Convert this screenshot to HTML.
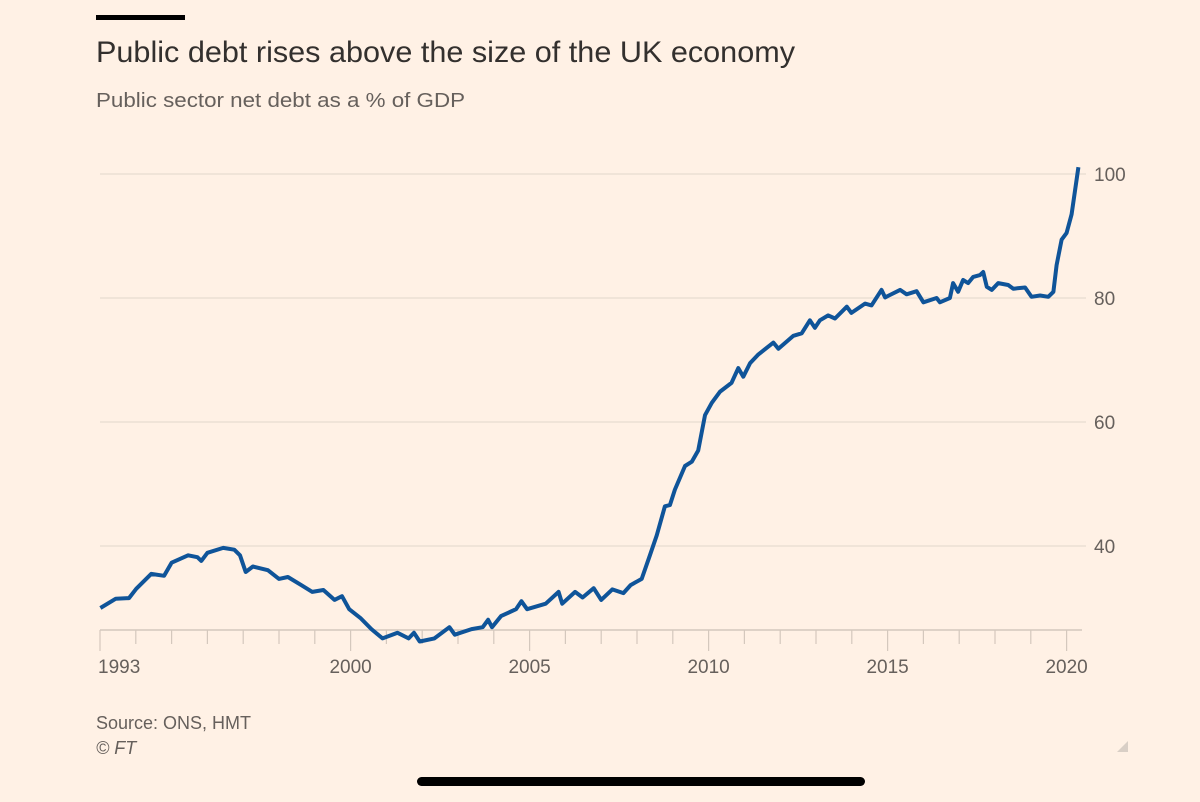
<!DOCTYPE html>
<html>
<head>
<meta charset="utf-8">
<style>
  html,body{margin:0;padding:0;background:#fff1e5;}
  body{width:1200px;height:802px;overflow:hidden;position:relative;font-family:"Liberation Sans",sans-serif;}
  svg{position:absolute;left:0;top:0;}
</style>
</head>
<body>
<svg id="chart" width="1200" height="802">
  <rect x="96" y="15" width="89" height="5" fill="#000"/>
  <text x="96" y="62" font-size="30" fill="#33302e" textLength="699" lengthAdjust="spacingAndGlyphs" font-family="Liberation Sans, sans-serif">Public debt rises above the size of the UK economy</text>
  <text x="96" y="107" font-size="20" fill="#66605c" textLength="369" lengthAdjust="spacingAndGlyphs" font-family="Liberation Sans, sans-serif">Public sector net debt as a % of GDP</text>
  <g id="grid"></g>
  <g id="xaxis"></g>
  <path id="line" fill="none" stroke="#0f5499" stroke-width="4" stroke-linejoin="round"/>
  <text x="96" y="729" font-size="18" fill="#66605c">Source: ONS, HMT</text>
  <text x="96" y="754" font-size="18" fill="#66605c" font-style="italic">© FT</text>
  <polygon points="1128,741 1128,752 1117,752" fill="#d9cfc6"/>
  <rect x="417" y="777" width="448" height="9" rx="4.5" fill="#000"/>
</svg>
<script>
const years = [1993.01,1993.44,1993.81,1994.01,1994.43,1994.79,1995.0,1995.46,1995.72,1995.83,1996.0,1996.44,1996.75,1996.91,1997.07,1997.27,1997.69,1998.0,1998.25,1998.62,1998.93,1999.24,1999.55,1999.76,1999.96,2000.27,2000.58,2000.89,2001.31,2001.62,2001.77,2001.93,2002.34,2002.76,2002.91,2003.38,2003.69,2003.84,2003.95,2004.2,2004.62,2004.77,2004.93,2005.45,2005.81,2005.91,2006.27,2006.48,2006.79,2007.0,2007.31,2007.62,2007.82,2008.13,2008.36,2008.55,2008.78,2008.92,2009.06,2009.34,2009.53,2009.71,2009.9,2010.09,2010.32,2010.64,2010.83,2010.97,2011.16,2011.39,2011.81,2011.95,2012.37,2012.6,2012.83,2012.97,2013.11,2013.34,2013.53,2013.86,2013.99,2014.37,2014.55,2014.83,2014.93,2015.35,2015.53,2015.81,2016.0,2016.37,2016.46,2016.74,2016.83,2016.97,2017.11,2017.25,2017.39,2017.58,2017.67,2017.77,2017.91,2018.09,2018.37,2018.51,2018.84,2019.02,2019.26,2019.49,2019.63,2019.72,2019.86,2020.0,2020.14,2020.33];
const debt = [30.0,31.5,31.6,33.1,35.5,35.2,37.3,38.5,38.2,37.6,38.9,39.7,39.4,38.5,35.8,36.7,36.1,34.7,35.0,33.7,32.6,32.9,31.3,31.9,29.8,28.4,26.6,25.1,26.0,25.1,26.0,24.6,25.1,26.9,25.7,26.6,26.9,28.1,26.9,28.7,29.8,31.1,29.8,30.7,32.6,30.7,32.6,31.7,33.2,31.3,33.0,32.4,33.7,34.7,38.5,41.7,46.4,46.6,49.1,52.9,53.6,55.4,61.1,63.1,64.9,66.3,68.7,67.3,69.5,70.9,72.8,71.8,73.9,74.3,76.4,75.2,76.4,77.2,76.7,78.6,77.6,79.1,78.8,81.3,80.1,81.3,80.6,81.1,79.3,80.0,79.3,80.0,82.4,81.0,82.9,82.4,83.4,83.7,84.2,81.8,81.3,82.4,82.1,81.5,81.7,80.2,80.4,80.2,81.0,85.3,89.4,90.5,93.5,101.1];
const yTicks = [40,60,80,100];
const xTicks = [1993,1994,1995,1996,1997,1998,1999,2000,2001,2002,2003,2004,2005,2006,2007,2008,2009,2010,2011,2012,2013,2014,2015,2016,2017,2018,2019,2020];
const xLabels = [1993,2000,2005,2010,2015,2020];

const NS = "http://www.w3.org/2000/svg";
const xs = y => 100 + (y - 1993) * 35.8;
const ys = v => 794 - v * 6.2;
const grid = document.getElementById('grid');
const xa = document.getElementById('xaxis');

yTicks.forEach(v => {
  const l = document.createElementNS(NS,'line');
  l.setAttribute('x1',100); l.setAttribute('x2',1086);
  l.setAttribute('y1',ys(v)); l.setAttribute('y2',ys(v));
  l.setAttribute('stroke','#ecdfd4'); l.setAttribute('stroke-width','1.5');
  
  
  grid.appendChild(l);
  const t = document.createElementNS(NS,'text');
  t.setAttribute('x',1094); t.setAttribute('y',ys(v)+7);
  t.setAttribute('font-size','19'); t.setAttribute('fill','#66605c');
  t.textContent = v;
  
  
  grid.appendChild(t);
});

const axis = document.createElementNS(NS,'line');
axis.setAttribute('x1',100); axis.setAttribute('x2',1082);
axis.setAttribute('y1',630); axis.setAttribute('y2',630);
axis.setAttribute('stroke','#d4c8bd'); axis.setAttribute('stroke-width','1.5');


xa.appendChild(axis);

xTicks.forEach(y => {
  const big = xLabels.includes(y);
  const l = document.createElementNS(NS,'line');
  l.setAttribute('x1',xs(y)); l.setAttribute('x2',xs(y));
  l.setAttribute('y1',630); l.setAttribute('y2', big ? 651 : 644);
  l.setAttribute('stroke','#d4c8bd'); l.setAttribute('stroke-width','1.2');
  
  
  xa.appendChild(l);
});
xLabels.forEach(y => {
  const t = document.createElementNS(NS,'text');
  t.setAttribute('x', y === 1993 ? xs(y) - 2 : xs(y));
  t.setAttribute('y',673);
  t.setAttribute('text-anchor', y === 1993 ? 'start' : 'middle');
  t.setAttribute('font-size','19'); t.setAttribute('fill','#66605c');
  t.textContent = y;
  
  
  xa.appendChild(t);
});

let d = '';
years.forEach((y,i) => { d += (i ? 'L' : 'M') + xs(y).toFixed(1) + ',' + ys(debt[i]).toFixed(1); });
document.getElementById('line').setAttribute('d', d);
</script>
</body>
</html>
